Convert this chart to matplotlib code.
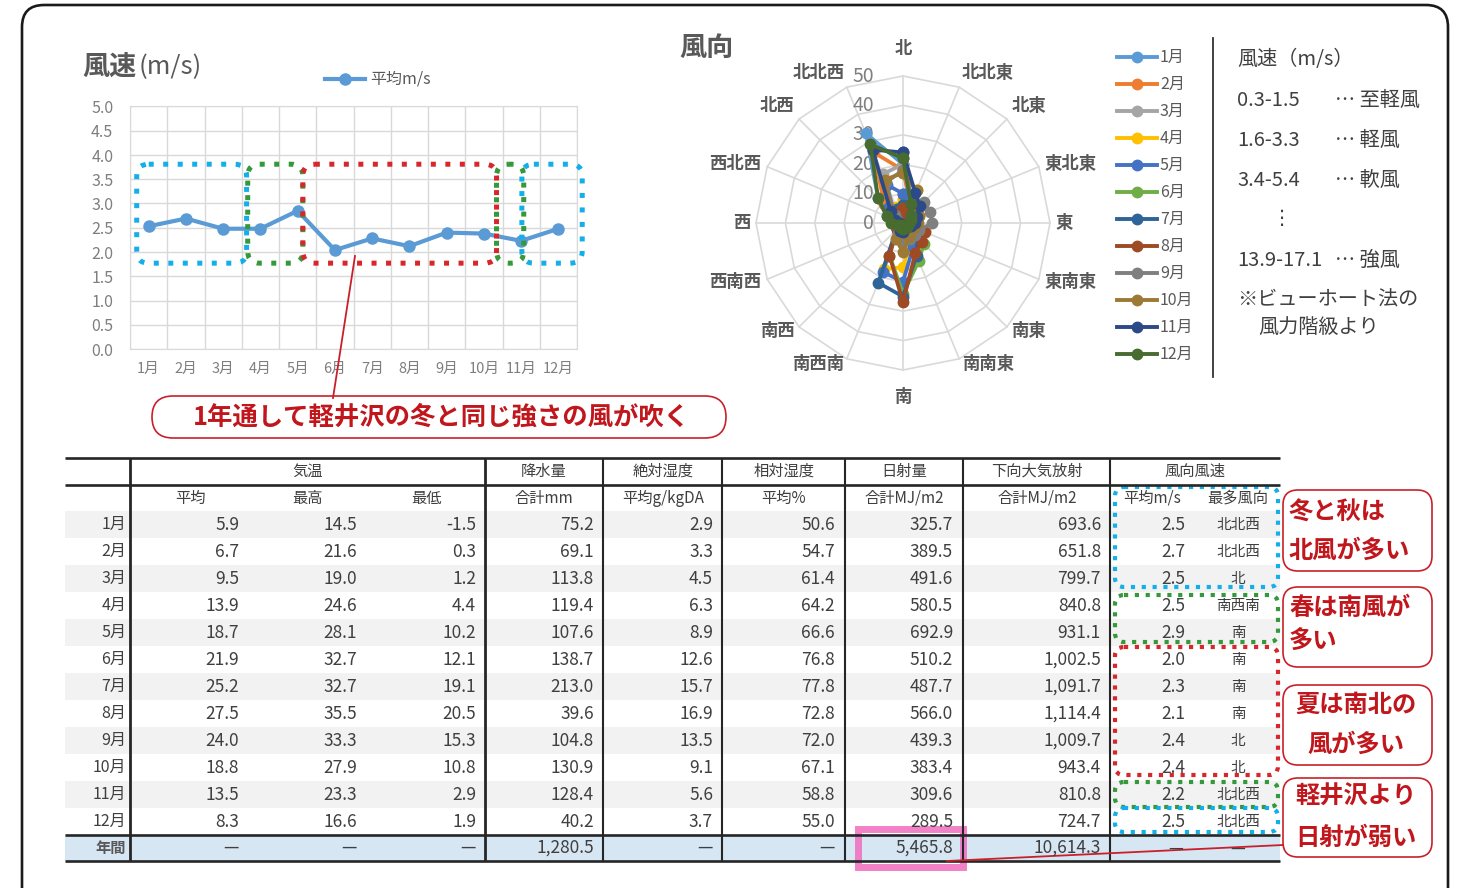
import matplotlib
matplotlib.use("Agg")
import matplotlib.pyplot as plt
from matplotlib.patches import FancyBboxPatch, Rectangle
import numpy as np

plt.rcParams['font.family'] = ['Noto Sans CJK JP', 'DejaVu Sans']

W, H = 1472, 888

months = ['1月', '2月', '3月', '4月', '5月', '6月', '7月', '8月', '9月', '10月', '11月', '12月']

# monthly mean wind speed (m/s)
wind_avg = [2.53, 2.69, 2.48, 2.48, 2.85, 2.04, 2.28, 2.12, 2.40, 2.38, 2.23, 2.48]

# wind direction frequency (%), N then clockwise
directions = ['北', '北北東', '北東', '東北東', '東', '東南東', '南東', '南南東',
              '南', '南西南', '南西', '西南西', '西', '西北西', '北西', '北北西']
freq_jan = [20, 6, 4, 3, 3, 2, 2, 2, 3, 3, 2, 2, 3, 6, 12, 33]
freq_feb = [18, 7, 4, 3, 2, 2, 2, 3, 4, 4, 2, 2, 2, 5, 9, 26]
freq_mar = [20, 8, 5, 4, 3, 3, 4, 5, 7, 6, 2, 1, 2, 3, 6, 18]
freq_apr = [8, 12, 7, 6, 4, 4, 5, 7, 15, 17, 3, 2, 2, 2, 3, 6]
freq_may = [10, 6, 4, 3, 3, 4, 6, 9, 20, 18, 3, 2, 2, 3, 7, 14]
freq_jun = [6, 5, 4, 4, 4, 6, 10, 14, 24, 12, 3, 2, 1, 2, 3, 5]
freq_jul = [6, 5, 3, 3, 3, 5, 7, 12, 25, 22, 3, 1, 1, 2, 3, 5]
freq_aug = [5, 4, 3, 3, 3, 8, 9, 11, 27, 12, 3, 1, 1, 1, 2, 4]
freq_sep = [18, 9, 10, 10, 10, 6, 6, 6, 6, 4, 2, 1, 1, 2, 4, 15]
freq_oct = [17, 12, 7, 6, 5, 4, 4, 5, 10, 6, 2, 1, 1, 3, 6, 16]
freq_nov = [24, 11, 8, 5, 4, 3, 2, 2, 3, 3, 1, 1, 1, 3, 6, 27]
freq_dec = [22, 7, 4, 3, 2, 2, 2, 2, 2, 2, 1, 2, 4, 6, 12, 29]
month_freqs = [freq_jan, freq_feb, freq_mar, freq_apr, freq_may, freq_jun,
               freq_jul, freq_aug, freq_sep, freq_oct, freq_nov, freq_dec]
month_colors = ['#5B9BD5', '#ED7D31', '#A5A5A5', '#FFC000', '#4472C4', '#70AD47',
                '#2E6497', '#9E4A24', '#7F7F7F', '#9C7A35', '#2B4A87', '#486B30']

# monthly table
temp_avg = [5.9, 6.7, 9.5, 13.9, 18.7, 21.9, 25.2, 27.5, 24.0, 18.8, 13.5, 8.3]
temp_max = [14.5, 21.6, 19.0, 24.6, 28.1, 32.7, 32.7, 35.5, 33.3, 27.9, 23.3, 16.6]
temp_min = [-1.5, 0.3, 1.2, 4.4, 10.2, 12.1, 19.1, 20.5, 15.3, 10.8, 2.9, 1.9]
precip = [75.2, 69.1, 113.8, 119.4, 107.6, 138.7, 213.0, 39.6, 104.8, 130.9, 128.4, 40.2]
abs_hum = [2.9, 3.3, 4.5, 6.3, 8.9, 12.6, 15.7, 16.9, 13.5, 9.1, 5.6, 3.7]
rel_hum = [50.6, 54.7, 61.4, 64.2, 66.6, 76.8, 77.8, 72.8, 72.0, 67.1, 58.8, 55.0]
solar = [325.7, 389.5, 491.6, 580.5, 692.9, 510.2, 487.7, 566.0, 439.3, 383.4, 309.6, 289.5]
longwave = [693.6, 651.8, 799.7, 840.8, 931.1, 1002.5, 1091.7, 1114.4, 1009.7, 943.4, 810.8, 724.7]
wind_mode = ['北北西', '北北西', '北', '南西南', '南', '南', '南', '南', '北', '北', '北北西', '北北西']
precip_total = 1280.5
solar_total = 5465.8
longwave_total = 10614.3

RED = '#C8202A'
BLUE_DOT = '#14AEE8'
GREEN_DOT = '#33993A'
RED_DOT = '#D8262B'

fig = plt.figure(figsize=(W / 100, H / 100), dpi=100)

# ---- wind speed line chart ----
ax1 = fig.add_axes([130 / W, 1 - 349 / H, 447 / W, 242.5 / H])
ax1.set_facecolor('none')
x = np.arange(12)
ax1.plot(x, wind_avg, color='#5B9BD5', lw=3.0, marker='o', ms=8, zorder=3, clip_on=False)
ax1.set_xlim(-0.5, 11.5)
ax1.set_ylim(0, 5)
yt = np.arange(0, 5.01, 0.5)
ax1.set_yticks(yt, [f"{v:.1f}" for v in yt])
ax1.set_xticks(x, months)
ax1.set_xticks(np.arange(-0.5, 12, 1), minor=True)
ax1.grid(which='minor', axis='x', color='#D9D9D9', lw=1)
ax1.grid(which='major', axis='y', color='#D9D9D9', lw=1)
ax1.tick_params(which='both', length=0, colors='#7F7F7F')
ax1.tick_params(axis='y', labelsize=11.5, pad=12)
ax1.tick_params(axis='x', labelsize=10.5, pad=9)
for sp in ax1.spines.values():
    sp.set_color('#D9D9D9')

# ---- wind direction radar ----
R_PX = 147
axr = fig.add_axes([(903 - R_PX) / W, 1 - (223 + R_PX) / H, 2 * R_PX / W, 2 * R_PX / H],
                   projection='polar')
axr.set_theta_zero_location('N')
axr.set_theta_direction(-1)
axr.set_ylim(0, 50)
axr.grid(False)
axr.set_xticks([])
axr.set_yticks([])
axr.spines['polar'].set_visible(False)
axr.patch.set_alpha(0)
theta = np.deg2rad(np.arange(16) * 22.5)
theta_c = np.append(theta, theta[0])
for r in range(10, 51, 10):
    axr.plot(theta_c, [r] * 17, color='#D9D9D9', lw=1.2, zorder=1, clip_on=False)
for t in theta:
    axr.plot([t, t], [0, 50], color='#D9D9D9', lw=1.2, zorder=1, clip_on=False)
for k, (f, c) in enumerate(zip(month_freqs, month_colors)):
    axr.plot(theta_c, f + f[:1], color=c, lw=2.7, marker='o', ms=7.5,
             zorder=3 + k, clip_on=False)
for r in range(0, 51, 10):
    axr.annotate(str(r), (0, r), xytext=(-29, 0), textcoords='offset pixels',
                 ha='right', va='center', color='#7F7F7F', fontsize=14, zorder=2)
for t, name in zip(theta, directions):
    s, c = np.sin(t), np.cos(t)
    ha = 'left' if s > 0.2 else ('right' if s < -0.2 else 'center')
    if c > 0.5:
        va = 'bottom'
    elif abs(s) < 0.2:
        va = 'top'
    else:
        va = 'center'
    pad = 18 if abs(s) < 0.2 else 6
    axr.annotate(name, (t, 50), xytext=(pad * s, pad * c), textcoords='offset pixels',
                 ha=ha, va=va, color='#595959', fontsize=12.5, fontweight='bold')

# ---- overlay canvas in pixel units ----
cv = fig.add_axes([0, 0, 1, 1])
cv.set_xlim(0, W)
cv.set_ylim(H, 0)
cv.axis('off')
cv.set_zorder(5)
cv.patch.set_alpha(0)


def rbox(x0, y0, x1, y1, rad, **kw):
    p = FancyBboxPatch((x0, y0), x1 - x0, y1 - y0,
                       boxstyle=f"round,pad=0,rounding_size={rad}", **kw)
    cv.add_patch(p)
    return p


def to_canvas(ax, xd, yd):
    px, py = ax.transData.transform((xd, yd))
    return px, H - py


# outer frame
rbox(22, 5, 1448, 960, 22, fc='none', ec='#1A1A1A', lw=1.9, clip_on=False)

# titles
cv.text(82, 67, '風速', fontsize=19.5, fontweight='bold', color='#595959', va='center')
cv.text(139, 67, '(m/s)', fontsize=18.5, color='#595959', va='center')
cv.text(679, 48, '風向', fontsize=19.5, fontweight='bold', color='#595959', va='center')

# line chart legend
cv.plot([325, 365], [79, 79], color='#5B9BD5', lw=3.0)
cv.plot([345], [79], color='#5B9BD5', marker='o', ms=8)
cv.text(370, 79, '平均m/s', fontsize=11.5, color='#595959', va='center')

# season boxes on the line chart (category units)
season_spans = [(-0.32, 2.63, BLUE_DOT), (2.66, 4.14, GREEN_DOT), (4.14, 9.34, RED_DOT),
                (9.34, 10.07, GREEN_DOT), (10.02, 11.64, BLUE_DOT)]
for xa, xb, col in season_spans:
    x0, y0 = to_canvas(ax1, xa, 3.81)
    x1, y1 = to_canvas(ax1, xb, 1.77)
    rbox(x0, y0, x1, y1, 12, fc='none', ec=col, lw=3.6,
         ls=(0, (1, 1.9)), capstyle='butt')

# callout under the line chart
cv.plot([355, 333], [256, 398], color=RED, lw=1.3)
rbox(152, 396, 726, 438, 21, fc='white', ec=RED, lw=1.2)
cv.text(441, 417, '1年通して軽井沢の冬と同じ強さの風が吹く', fontsize=18.3, fontweight='bold',
        color='#C0161C', ha='center', va='center')

# radar legend
for k, (m, c) in enumerate(zip(months, month_colors)):
    yy = 57 + 27 * k
    cv.plot([1117, 1157], [yy, yy], color=c, lw=2.8)
    cv.plot([1137], [yy], color=c, marker='o', ms=7.5)
    cv.text(1160, yy, m, fontsize=11.5, color='#595959', va='center')

cv.plot([1213, 1213], [38, 377], color='#333333', lw=1.3)

# Beaufort notes
note_c = '#404040'
fs = 14.5
cv.text(1237, 60, '風速（m/s）', fontsize=fs, color=note_c, va='center')
for yy, rng, name in [(100, '0.3-1.5', '至軽風'), (140, '1.6-3.3', '軽風'),
                      (180, '3.4-5.4', '軟風'), (260, '13.9-17.1', '強風')]:
    cv.text(1237, yy, rng, fontsize=fs, color=note_c, va='center')
    cv.text(1335, yy, '… ' + name, fontsize=fs, color=note_c, va='center')
cv.text(1282, 218, '⋮', fontsize=fs, color=note_c, va='center', ha='center',
        family=['DejaVu Sans'])
cv.text(1237, 300, '※ビューホート法の', fontsize=fs, color=note_c, va='center')
cv.text(1258, 327, '風力階級より', fontsize=fs, color=note_c, va='center')

# ---- table ----
tab_l, tab_r = 65, 1280
row_top, row_h = 511, 27
tot_top, tot_bot = 835, 861
txt_c = '#3F3F3F'
for k in range(12):
    if k % 2 == 0:
        cv.add_patch(Rectangle((tab_l, row_top + k * row_h), tab_r - tab_l, row_h,
                               fc='#F2F2F2', ec='none'))
cv.add_patch(Rectangle((tab_l, tot_top), tab_r - tab_l, tot_bot - tot_top,
                       fc='#D6E6F3', ec='none'))

for yy in [458, 485, tot_top, tot_bot]:
    cv.plot([tab_l, tab_r], [yy, yy], color='#262626', lw=1.9, solid_capstyle='butt')
for xx in [130, 485, 603, 722, 845, 963, 1110]:
    cv.plot([xx, xx], [458, tot_bot], color='#262626',
            lw=2.0 if xx in (130, 485) else 1.5, solid_capstyle='butt')

head1 = [(308, '気温'), (544, '降水量'), (663, '絶対湿度'), (784, '相対湿度'),
         (904, '日射量'), (1037, '下向大気放射'), (1195, '風向風速')]
head2 = [(190, '平均'), (308, '最高'), (427, '最低'), (544, '合計mm'), (663, '平均g/kgDA'),
         (784, '平均%'), (904, '合計MJ/m2'), (1037, '合計MJ/m2'), (1152, '平均m/s'),
         (1238, '最多風向')]
for xx, s in head1:
    cv.text(xx, 471, s, fontsize=11, color=txt_c, ha='center', va='center')
for xx, s in head2:
    cv.text(xx, 498, s, fontsize=11, color=txt_c, ha='center', va='center')

value_cols = [(239, temp_avg), (357, temp_max), (476, temp_min), (594, precip),
              (713, abs_hum), (835, rel_hum), (953, solar), (1101, longwave),
              (1185, wind_avg)]
for k, m in enumerate(months):
    yy = row_top + k * row_h + row_h / 2
    cv.text(126, yy, m, fontsize=11.5, color=txt_c, ha='right', va='center')
    for xr, vals in value_cols:
        cv.text(xr, yy, f"{vals[k]:,.1f}", fontsize=12.5, color=txt_c, ha='right', va='center')
    cv.text(1238, yy, wind_mode[k], fontsize=10.5, color=txt_c, ha='center', va='center')

ty = (tot_top + tot_bot) / 2
cv.text(126, ty, '年間', fontsize=11, color='#595959', ha='right', va='center',
        fontweight='bold')
totals = {594: precip_total, 953: solar_total, 1101: longwave_total}
for xr, _ in value_cols[:-1]:
    s = f"{totals[xr]:,.1f}" if xr in totals else '—'
    cv.text(xr, ty, s, fontsize=12.5, color=txt_c, ha='right', va='center')
cv.text(1183, ty, '—', fontsize=12, color=txt_c, ha='right', va='center')
cv.text(1238, ty, '—', fontsize=12, color=txt_c, ha='center', va='center')

# season boxes on the wind column
for y0, y1, col in [(487, 587, BLUE_DOT), (595, 642, GREEN_DOT), (647, 775, RED_DOT),
                    (782, 807, GREEN_DOT), (808, 832, BLUE_DOT)]:
    rbox(1115, y0, 1278, y1, 9, fc='none', ec=col, lw=3.0,
         ls=(0, (1, 1.6)), capstyle='butt')

# highlighted annual solar total
cv.add_patch(Rectangle((858, 829), 105, 38, fc='none', ec='#F06CBF', lw=5, alpha=0.85))

# remark callouts on the right
callouts = [
    (490, 571, [('冬と秋は', 1289, 513, 'left'), ('北風が多い', 1289, 551, 'left')]),
    (587, 667, [('春は南風が', 1289, 608, 'left'), ('多い', 1289, 642, 'left')]),
    (685, 765, [('夏は南北の', 1356, 705, 'center'), ('風が多い', 1356, 745, 'center')]),
    (778, 857, [('軽井沢より', 1356, 797, 'center'), ('日射が弱い', 1356, 838, 'center')]),
]
for y0, y1, lines in callouts:
    rbox(1283, y0, 1432, y1, 15, fc='white', ec=RED, lw=1.2)
    for s, xx, yy, ha in lines:
        cv.text(xx, yy, s, fontsize=17.5, fontweight='bold', color='#C0161C',
                ha=ha, va='center')

cv.plot([947, 1283], [861, 845], color=RED, lw=1.3)

fig.savefig('out.png', dpi=100)
